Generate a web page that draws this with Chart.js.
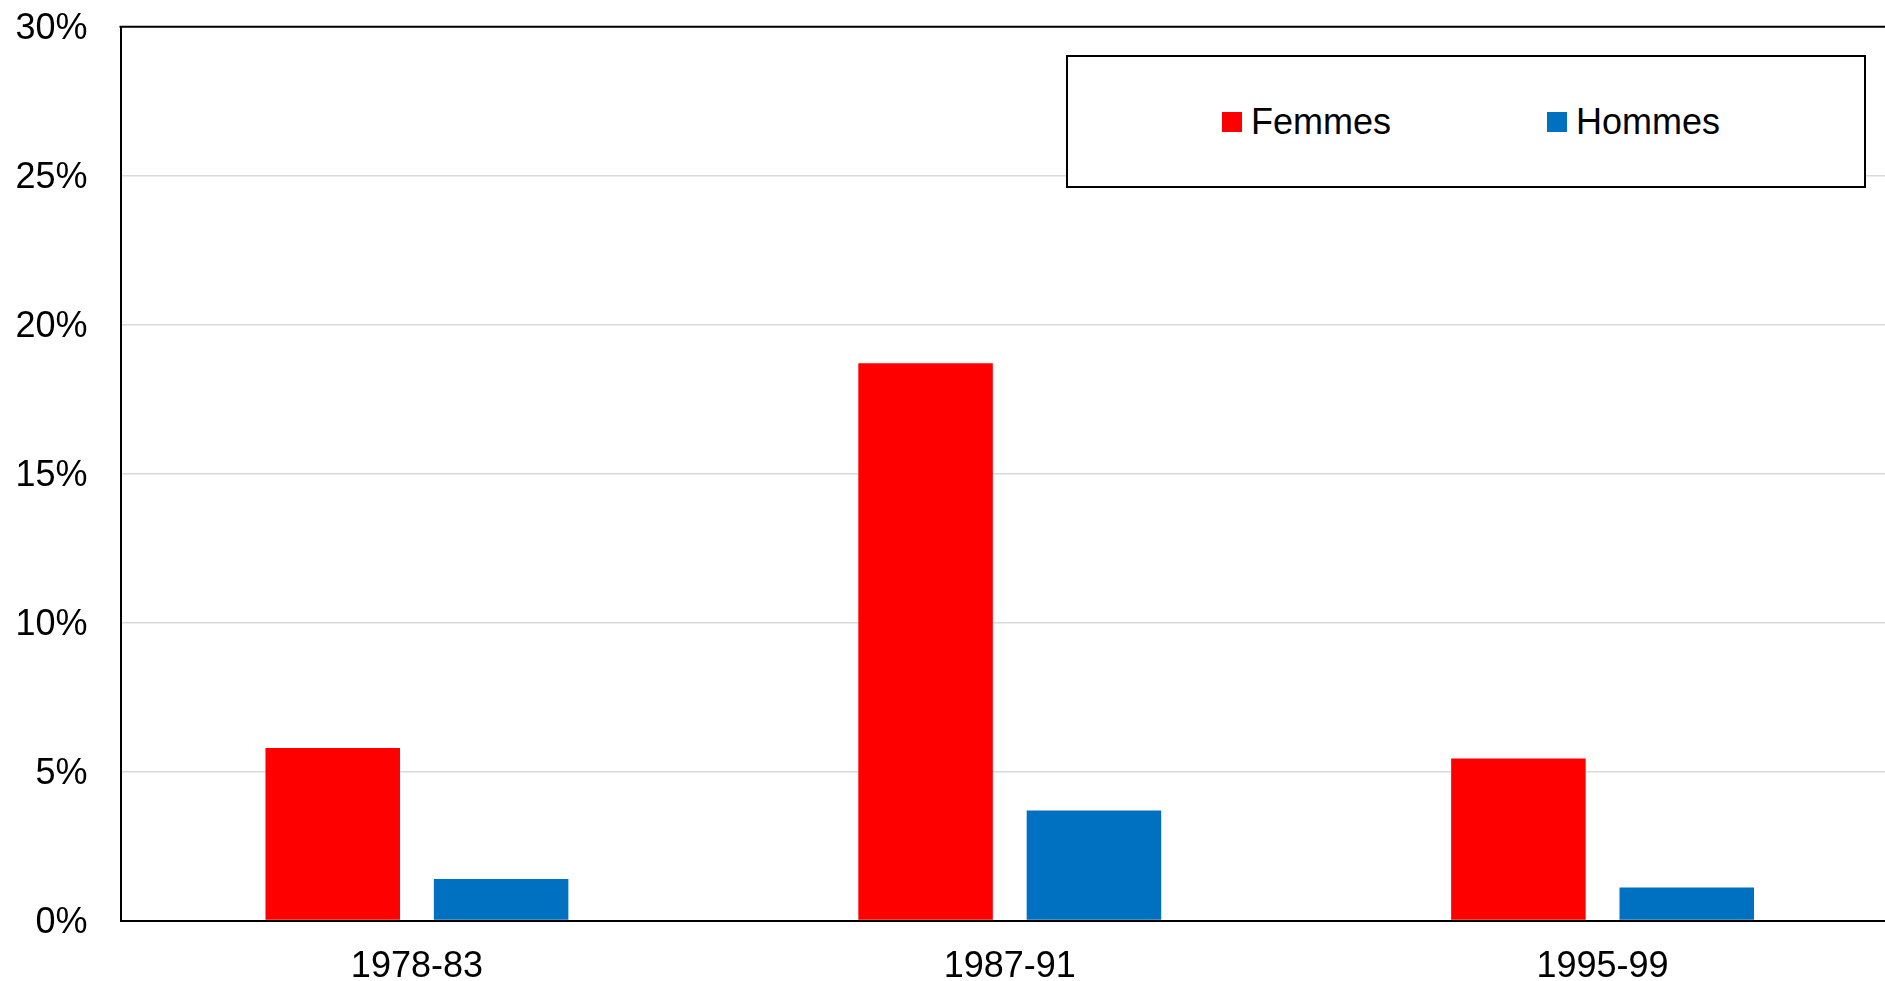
<!DOCTYPE html>
<html>
<head>
<meta charset="utf-8">
<script src="https://cdn.jsdelivr.net/npm/chart.js@4/dist/chart.umd.min.js"></script>
<style>
  html, body { margin: 0; padding: 0; background: #fff; overflow: hidden; }
  #wrap { position: relative; width: 1900px; height: 981px; }
  #legend {
    position: absolute; left: 1066px; top: 55px; width: 796px; height: 129px;
    border: 2px solid #000; background: #fff; box-sizing: content-box;
    font-family: "Liberation Sans", Arial, sans-serif; font-size: 36px; color: #000;
  }
  .item { position: absolute; top: 0; height: 129px; display: flex; align-items: center; }
  .sw { width: 20px; height: 20px; margin-right: 9px; }
</style>
</head>
<body>
<div id="wrap">
  <canvas id="c"></canvas>
  <div id="legend"></div>
</div>
<script>
const categories = ["1978-83", "1987-91", "1995-99"];
const seriesNames = ["Femmes", "Hommes"];
const femmes = [5.79, 18.70, 5.44];
const hommes = [1.39, 3.69, 1.11];
const yTicks = [0, 5, 10, 15, 20, 25, 30];
const colors = ["#FF0000", "#0070C0"];

const FONT = { family: "'Liberation Sans', Arial, sans-serif", size: 36 };

const frame = {
  id: 'frame',
  afterDraw(chart) {
    const { ctx, chartArea: a } = chart;
    ctx.save();
    ctx.strokeStyle = '#000';
    ctx.lineWidth = 2;
    ctx.beginPath();
    ctx.moveTo(a.left - 1, a.top);
    ctx.lineTo(a.right, a.top);
    ctx.stroke();
    ctx.restore();
  }
};

const chart = new Chart(document.getElementById('c'), {
  type: 'bar',
  data: {
    labels: categories,
    datasets: [
      { label: seriesNames[0], data: femmes, backgroundColor: colors[0], borderWidth: 0 },
      { label: seriesNames[1], data: hommes, backgroundColor: colors[1], borderWidth: 0 }
    ]
  },
  options: {
    responsive: true,
    maintainAspectRatio: false,
    animation: false,
    devicePixelRatio: 1,
    layout: { padding: { top: 0, right: 1, left: 0, bottom: 0 } },
    datasets: { bar: { categoryPercentage: 0.568, barPercentage: 0.799 } },
    plugins: { legend: { display: false }, tooltip: { enabled: false } },
    scales: {
      x: {
        grid: { display: false, drawTicks: false },
        border: { display: true, color: '#000', width: 2, z: 1 },
        ticks: { color: '#000', font: FONT, padding: 25, maxRotation: 0 },
        afterFit(s) { s.height = 60.5; }
      },
      y: {
        min: 0, max: 30,
        afterBuildTicks(s) { s.ticks = yTicks.map(v => ({ value: v })); },
        grid: { color: '#d9d9d9', lineWidth: 1.5, drawTicks: false },
        border: { display: true, color: '#000', width: 2, z: 1 },
        ticks: { color: '#000', font: FONT, padding: 33, labelOffset: 2.5, callback: v => v + '%' },
        afterFit(s) { s.width = 120.5; s.paddingTop = 26.7; s.paddingBottom = 20; }
      }
    }
  },
  plugins: [frame]
});

// HTML legend built from the chart's datasets
const leg = document.getElementById('legend');
const lefts = [154, 479];
chart.data.datasets.forEach((ds, i) => {
  const it = document.createElement('div');
  it.className = 'item';
  it.style.left = lefts[i] + 'px';
  const sw = document.createElement('span');
  sw.className = 'sw';
  sw.style.background = ds.backgroundColor;
  const tx = document.createElement('span');
  tx.textContent = ds.label;
  it.appendChild(sw); it.appendChild(tx);
  leg.appendChild(it);
});
</script>
</body>
</html>
